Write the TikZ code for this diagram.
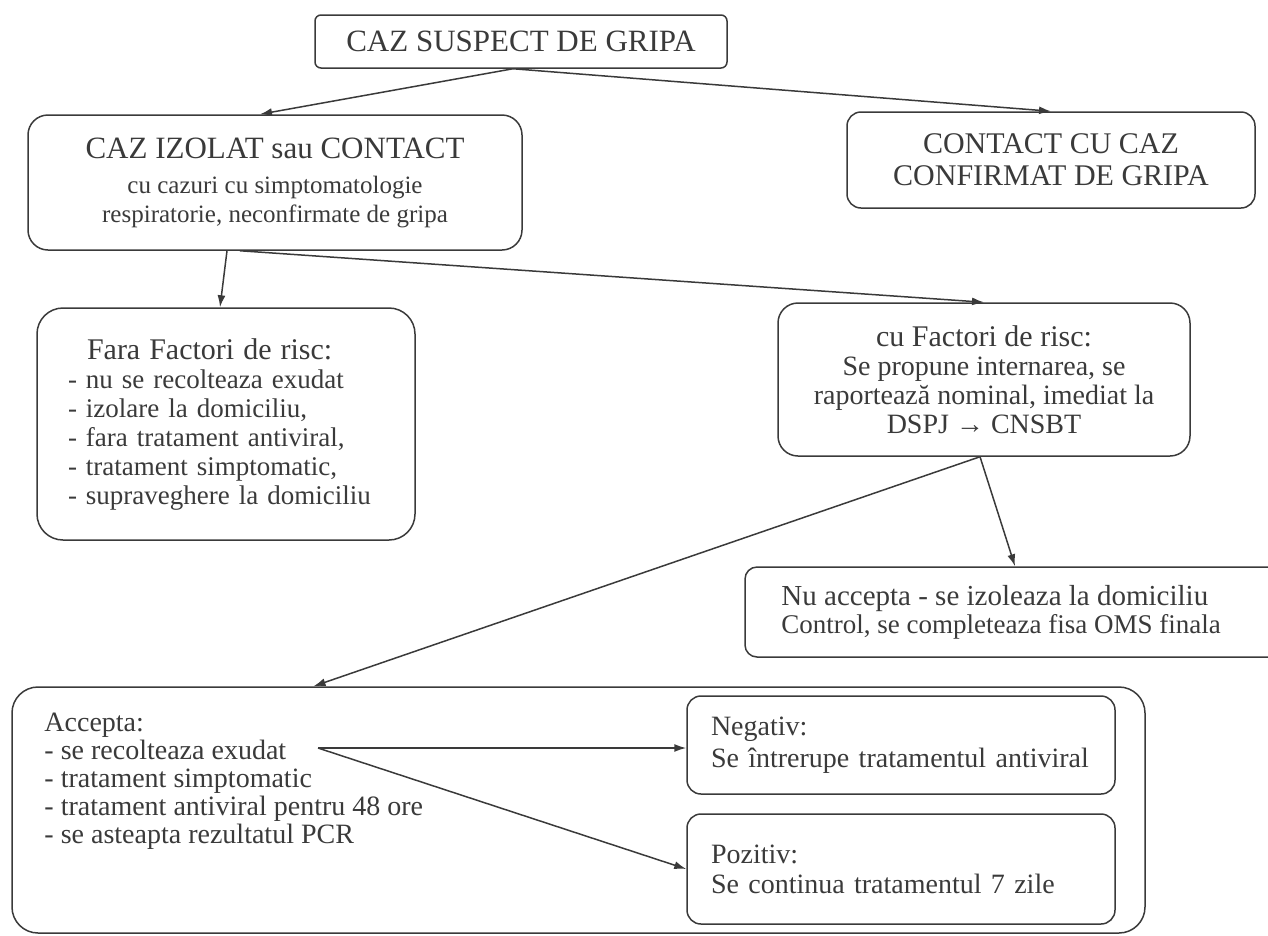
\documentclass[tikz,border=0pt]{standalone}
\usepackage{fontspec}
\setmainfont{Liberation Serif}
\usetikzlibrary{arrows.meta}
\definecolor{ink}{HTML}{3A3A3A}
\newcommand{\fsz}[2]{\fontsize{#1}{#2}\selectfont}
\tikzstyle{box}=[draw=ink, text=ink, line width=1.5pt, rounded corners=12pt, inner sep=0pt, align=center]
\tikzstyle{box round}=[box, rounded corners=26pt]
\tikzstyle{link}=[draw=ink, line width=1.5pt, -{Latex[length=12pt, width=8pt]}]

\begin{document}
\begin{tikzpicture}[x=1pt, y=-1pt]
      \useasboundingbox (0,0) rectangle (1268,935);

      % TOP ROW
      \node[box, rounded corners=6pt, minimum width=412pt, minimum height=53pt, font=\fsz{31}{34}]
        (suspect) at (521,41.5) {CAZ SUSPECT DE GRIPA};
      \node[box, rounded corners=20pt, minimum width=494pt, minimum height=135pt, font=\fsz{25}{29}]
        (izolat) at (275,182.5) {{\fsz{31}{34}CAZ IZOLAT sau CONTACT}\\[6pt]
          cu cazuri cu simptomatologie\\respiratorie, neconfirmate de gripa};
      \node[box, rounded corners=14pt, minimum width=408pt, minimum height=96pt, font=\fsz{30}{32}]
        (contact) at (1051,160) {CONTACT CU CAZ\\CONFIRMAT DE GRIPA};

      % RISK FACTORS
      \node[box round, minimum width=378pt, minimum height=232pt, text width=316pt, align=left, font=\fsz{27}{29}]
        (fara) at (226,424) {\hspace*{19pt}{\fsz{30}{29}Fara Factori de risc:}\\
          - nu se recolteaza exudat\\- izolare la domiciliu,\\- fara tratament antiviral,\\
          - tratament simptomatic,\\- supraveghere la domiciliu};
      \node[box, rounded corners=20pt, minimum width=412pt, minimum height=153pt, font=\fsz{28}{29}]
        (cufact) at (984,379.5) {{\fsz{30}{29}cu Factori de risc:}\\Se propune internarea, se\\
          raportează nominal, imediat la\\DSPJ → CNSBT};

      % NU ACCEPTA (runs off the right edge)
      \node[box, rounded corners=12pt, minimum width=574pt, minimum height=90pt] (nuacc) at (1032,612) {};
      \node[anchor=west, text=ink, align=left, inner sep=0pt, font=\fsz{27}{28}]
        (nutext) at ([xshift=37pt]nuacc.west) {{\fsz{29}{28}Nu accepta - se izoleaza la domiciliu}\\
          Control, se completeaza fisa OMS finala};

      % ACCEPTA
      \node[box round, minimum width=1133pt, minimum height=246pt] (acc) at (578.5,810) {};
      \node[anchor=north west, text=ink, align=left, inner sep=0pt, font=\fsz{28}{28}]
        (acctext) at ([xshift=33pt, yshift=-27pt]acc.north west) {Accepta:\\- se recolteaza exudat\\
          - tratament simptomatic\\- tratament antiviral pentru 48 ore\\- se asteapta rezultatul PCR};
      \coordinate (fork) at (318,748);

      % PCR RESULT
      \node[box, rounded corners=14pt, minimum width=428pt, minimum height=98pt, text width=380pt, align=left, font=\fsz{28}{32}]
        (neg) at (901,745) {Negativ:\\Se întrerupe tratamentul antiviral};
      \node[box, rounded corners=14pt, minimum width=428pt, minimum height=110pt, text width=380pt, align=left, font=\fsz{28}{30}]
        (poz) at (901,869) {Pozitiv:\\Se continua tratamentul 7 zile};

      % ARROWS
      \draw[link] ([xshift=-8pt]suspect.south) -- ([xshift=-15pt]izolat.north);
      \draw[link] ([xshift=-8pt]suspect.south) -- (contact.north);
      \draw[link] ([xshift=-48pt]izolat.south) -- ([xshift=-6pt]fara.north);
      \draw[link] ([xshift=-35pt]izolat.south) -- (cufact.north);
      \draw[link] ([xshift=-4pt]cufact.south) -- ([xshift=-17pt]nuacc.north);
      \draw[link] ([xshift=-4pt]cufact.south) -- ([xshift=-265pt]acc.north);
      \draw[link] (fork) -- (fork -| neg.west);
      \draw[link] (fork) -- (poz.west);
    \end{tikzpicture}
\end{document}
